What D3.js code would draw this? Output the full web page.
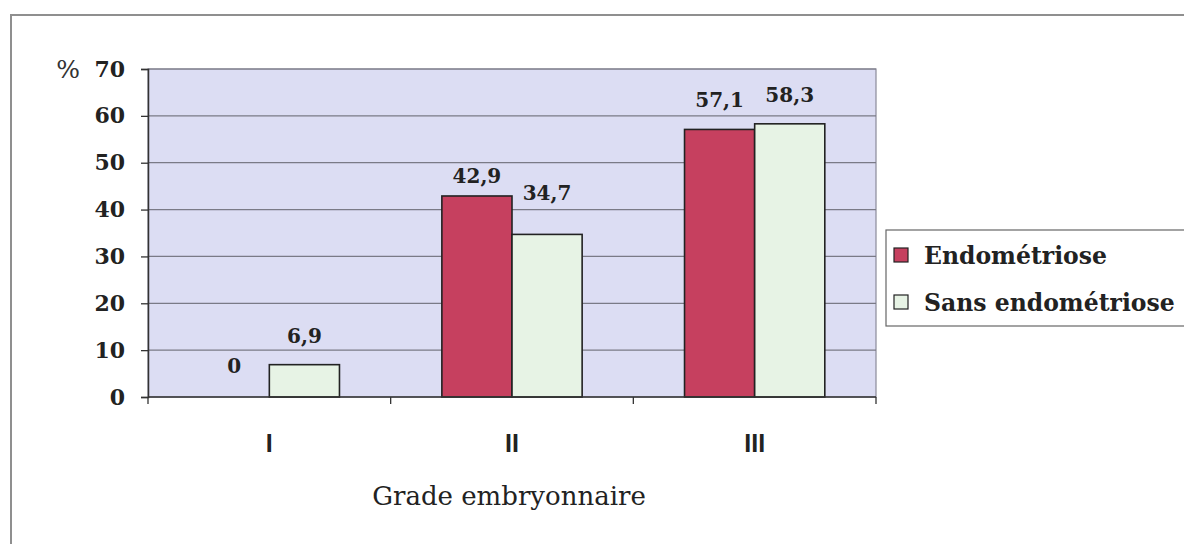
<!DOCTYPE html>
<html><head><meta charset="utf-8">
<script src="https://cdn.jsdelivr.net/npm/d3@7/dist/d3.min.js"></script>
<style>body{margin:0;background:#fff}svg{display:block}</style>
</head><body>
<svg id="c" width="1184" height="544"></svg>
<script>
const categories = ["I", "II", "III"];
const seriesNames = ["Endométriose", "Sans endométriose"];
const endometriose = [0, 42.9, 57.1];
const sansEndometriose = [6.9, 34.7, 58.3];
const valueLabels = [["0", "42,9", "57,1"], ["6,9", "34,7", "58,3"]];
const yTicks = [0, 10, 20, 30, 40, 50, 60, 70];

const colors = ["#C6405F", "#E7F3E5"];
const serif = "'DejaVu Serif',serif";
const sans = "'Liberation Sans','DejaVu Sans',sans-serif";

const svg = d3.select("#c");
const m = {l: 148, r: 876, t: 69, b: 397};

// outer frame
svg.append("rect").attr("x", 11).attr("y", 15).attr("width", 1200).attr("height", 600)
  .attr("fill", "#fff").attr("stroke", "#8f8f8f").attr("stroke-width", 2);

const x = d3.scaleBand().domain(categories).range([m.l, m.r]).paddingInner(0).paddingOuter(0);
const xs = d3.scaleBand().domain([0, 1]).range([0, x.bandwidth()]).paddingInner(0).paddingOuter(0.73);
const y = d3.scaleLinear().domain([0, 70]).range([m.b, m.t]);

// plot background
svg.append("rect").attr("x", m.l).attr("y", m.t).attr("width", m.r - m.l).attr("height", m.b - m.t)
  .attr("fill", "#DCDDF3").attr("stroke", "#8a8a9a").attr("stroke-width", 1.2);

// gridlines
svg.append("g").selectAll("line").data(yTicks.filter(d => d > 0)).join("line")
  .attr("x1", m.l).attr("x2", m.r).attr("y1", d => y(d)).attr("y2", d => y(d))
  .attr("stroke", "#7a7a86").attr("stroke-width", 1.2);

// y axis
const ya = svg.append("g").attr("transform", `translate(${m.l},0)`)
  .call(d3.axisLeft(y).tickValues(yTicks).tickSize(7).tickPadding(16).tickFormat(d3.format("d")));
ya.select(".domain").attr("stroke", "#333").attr("stroke-width", 1.5);
ya.selectAll(".tick line").attr("stroke", "#333").attr("stroke-width", 1.3);
ya.selectAll(".tick text").attr("font-family", serif).attr("font-weight", "bold")
  .attr("font-size", 22).attr("fill", "#222");
svg.append("text").attr("x", 80).attr("y", y(70) + 9).attr("text-anchor", "end")
  .attr("font-family", serif).attr("font-size", 25).attr("fill", "#333").text("%");

// bars
const series = [endometriose, sansEndometriose];
series.forEach((vals, si) => {
  svg.append("g").selectAll("rect").data(vals.map((v, i) => ({v, c: categories[i]})).filter(d => d.v > 0))
    .join("rect")
    .attr("x", d => x(d.c) + xs(si))
    .attr("y", d => y(d.v)).attr("width", xs.bandwidth()).attr("height", d => y(0) - y(d.v))
    .attr("fill", colors[si]).attr("stroke", "#222").attr("stroke-width", 1.6);
});

// value labels
const nudge = [[-2, 9, 0], [0, -12, 0]];
series.forEach((vals, si) => {
  svg.append("g").selectAll("text").data(vals).join("text")
    .attr("x", (d, i) => x(categories[i]) + xs(si) + xs.bandwidth() / 2)
    .attr("y", (d, i) => y(d) - 22 + nudge[si][i])
    .attr("text-anchor", "middle")
    .attr("font-family", serif).attr("font-weight", "bold").attr("font-size", 20).attr("fill", "#222")
    .text((d, i) => valueLabels[si][i]);
});

// x axis
const xa = svg.append("g").attr("transform", `translate(0,${m.b})`);
xa.append("line").attr("x1", m.l).attr("x2", m.r).attr("stroke", "#333").attr("stroke-width", 1.5);
const bounds = [m.l, ...categories.map(c => x(c) + x.bandwidth())];
xa.selectAll("line.t").data(bounds).join("line").attr("class", "t")
  .attr("x1", d => d).attr("x2", d => d).attr("y1", 0).attr("y2", 7)
  .attr("stroke", "#333").attr("stroke-width", 1.3);
xa.selectAll("text").data(categories).join("text")
  .attr("x", d => x(d) + x.bandwidth() / 2).attr("y", 55).attr("text-anchor", "middle")
  .attr("font-family", sans).attr("font-weight", "bold").attr("font-size", 25).attr("fill", "#222")
  .text(d => d);

svg.append("text").attr("x", 509).attr("y", 505).attr("text-anchor", "middle")
  .attr("font-family", serif).attr("font-size", 26).attr("fill", "#222").text("Grade embryonnaire");

// legend
const lg = svg.append("g");
lg.append("rect").attr("x", 886).attr("y", 230).attr("width", 320).attr("height", 96)
  .attr("fill", "#fff").attr("stroke", "#666").attr("stroke-width", 1.2);
seriesNames.forEach((n, i) => {
  const cy = 255 + i * 47;
  lg.append("rect").attr("x", 894).attr("y", cy - 7).attr("width", 14).attr("height", 14)
    .attr("fill", colors[i]).attr("stroke", "#222").attr("stroke-width", 1.2);
  lg.append("text").attr("x", 924).attr("y", cy + 9).attr("font-family", serif)
    .attr("font-weight", "bold").attr("font-size", 23.5).attr("fill", "#222").text(n);
});
</script>
</body></html>
